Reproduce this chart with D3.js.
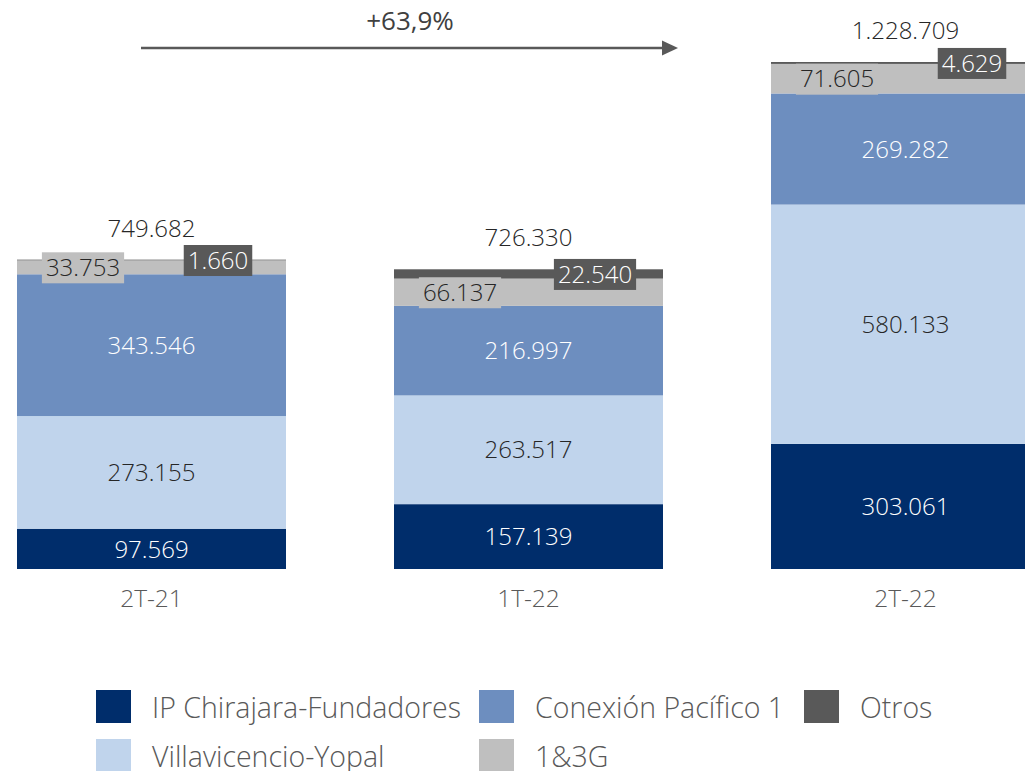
<!DOCTYPE html>
<html>
<head>
<meta charset="utf-8">
<script src="https://cdn.jsdelivr.net/npm/d3@7"></script>
<style>
  body { margin: 0; background: #fff; }
  svg { display: block; font-family: "Open Sans", sans-serif; }
</style>
</head>
<body>
<div id="chart-area"></div>
<script>
// data
let periods = ["2T-21", "1T-22", "2T-22"];
let seriesNames = ["IP Chirajara-Fundadores", "Villavicencio-Yopal", "Conexión Pacífico 1", "1&3G", "Otros"];
let ipChirajara = [97569, 157139, 303061];
let villavicencio = [273155, 263517, 580133];
let conexionPacifico = [343546, 216997, 269282];
let unoTresG = [33753, 66137, 71605];
let otros = [1660, 22540, 4629];
let totals = [749682, 726330, 1228709];
let growthLabel = "+63,9%";

let colors = ["#002d6b", "#c0d4ec", "#6d8ebf", "#bfbfbf", "#595959"];
let labelColors = ["#ffffff", "#262626", "#ffffff", "#262626", "#ffffff"];

let width = 1025, height = 771;

let svg = d3.select('#chart-area')
    .append('svg')
    .attr('width', width)
    .attr('height', height);

let fmt = d3.formatLocale({decimal: ",", thousands: ".", grouping: [3], currency: ["", ""]}).format(",d");

let table = periods.map(function(p, i) {
    return {
        period: p,
        s0: ipChirajara[i],
        s1: villavicencio[i],
        s2: conexionPacifico[i],
        s3: unoTresG[i],
        s4: otros[i],
        total: totals[i]
    };
});
let keys = ["s0", "s1", "s2", "s3", "s4"];
let stacked = d3.stack().keys(keys)(table);

let x = d3.scaleBand()
    .domain(periods)
    .range([17, 1040])
    .paddingInner(108 / 377)
    .paddingOuter(0);

let y = d3.scaleLinear()
    .domain([0, d3.max(totals)])
    .range([569, 62]);

// bars
let layers = svg.selectAll('g.layer')
    .data(stacked)
    .enter()
    .append('g')
    .attr('class', 'layer')
    .attr('fill', function(d, i) { return colors[i]; });

layers.selectAll('rect')
    .data(function(d) { return d; })
    .enter()
    .append('rect')
    .attr('x', function(d) { return x(d.data.period); })
    .attr('y', function(d) { return y(d[1]); })
    .attr('width', x.bandwidth())
    .attr('height', function(d) { return y(d[0]) - y(d[1]); });

// segment labels
let labelFont = 24;
let labelOffsets = [null, null, null, 66, 201];   // x offsets inside the bar for small segments

stacked.forEach(function(layer, li) {
    layer.forEach(function(d) {
        let cx = labelOffsets[li] === null ? x(d.data.period) + x.bandwidth() / 2 : x(d.data.period) + labelOffsets[li];
        let cy = (y(d[0]) + y(d[1])) / 2;
        let g = svg.append('g');
        let t = g.append('text')
            .attr('x', cx)
            .attr('y', cy)
            .attr('dy', '0.36em')
            .attr('text-anchor', 'middle')
            .attr('font-size', labelFont + 'px')
            .attr('font-weight', 300)
            .attr('fill', labelColors[li])
            .text(fmt(d[1] - d[0]));
        if (li >= 3) {
            let w = t.node().getComputedTextLength();
            g.insert('rect', 'text')
                .attr('x', cx - w / 2 - 4)
                .attr('y', cy - 15)
                .attr('width', w + 8)
                .attr('height', 31)
                .attr('fill', colors[li]);
        }
    });
});

// totals
svg.selectAll('text.total')
    .data(table)
    .enter()
    .append('text')
    .attr('class', 'total')
    .attr('x', function(d) { return x(d.period) + x.bandwidth() / 2; })
    .attr('y', function(d) { return y(d.total) - 23; })
    .attr('text-anchor', 'middle')
    .attr('font-size', labelFont + 'px')
    .attr('font-weight', 300)
    .attr('fill', '#262626')
    .text(function(d) { return fmt(d.total); });

// category axis
let xAxis = d3.axisBottom(x).tickSize(0).tickPadding(0);
let axisG = svg.append('g')
    .attr('class', 'x axis')
    .attr('transform', 'translate(0, 569)')
    .call(xAxis);
axisG.select('.domain').remove();
axisG.selectAll('text')
    .attr('y', 38)
    .attr('dy', 0)
    .attr('font-size', '24.5px')
    .attr('font-weight', 300)
    .attr('font-family', '"Open Sans", sans-serif')
    .attr('fill', '#595959');

// growth arrow
svg.append('line')
    .attr('x1', 141)
    .attr('x2', 663)
    .attr('y1', 48)
    .attr('y2', 48)
    .attr('stroke', '#595959')
    .attr('stroke-width', 2.5);
svg.append('path')
    .attr('d', 'M662,40.5 L678,48 L662,55.5 Z')
    .attr('fill', '#595959');
svg.append('text')
    .attr('x', 410)
    .attr('y', 30)
    .attr('text-anchor', 'middle')
    .attr('font-size', '26px')
    .attr('fill', '#404040')
    .text(growthLabel);

// legend
let legendOrder = [0, 2, 4, 1, 3];
let legendPos = [[96, 690], [479, 690], [804, 690], [96, 739], [479, 739]];
let legend = svg.selectAll('g.legend')
    .data(legendOrder)
    .enter()
    .append('g')
    .attr('class', 'legend')
    .attr('transform', function(d, i) { return 'translate(' + legendPos[i][0] + ',' + legendPos[i][1] + ')'; });

legend.append('rect')
    .attr('width', 35)
    .attr('height', 33)
    .attr('fill', function(d) { return colors[d]; });

legend.append('text')
    .attr('x', 56)
    .attr('y', 28)
    .attr('font-size', '28.5px')
    .attr('font-weight', 300)
    .attr('fill', '#595959')
    .text(function(d) { return seriesNames[d]; });
</script>
</body>
</html>
